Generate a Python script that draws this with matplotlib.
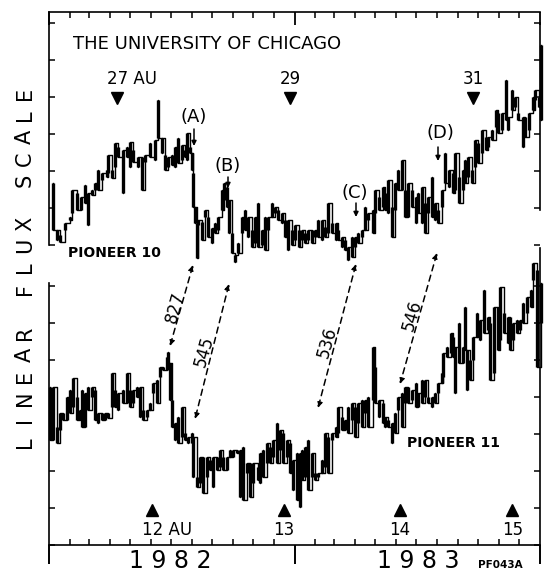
import numpy as np
import matplotlib
matplotlib.use("Agg")
import matplotlib.pyplot as plt
import matplotlib.dates as mdates

# days since 1982-01-01, flux in arbitrary linear units (high / low of each reading)
p10_day = [6, 12, 16, 24, 31, 34, 42, 48, 54, 58, 64, 68, 73, 79, 86, 88, 94, 98, 103, 110,
           116, 121, 125, 132, 138, 143, 150, 158, 162, 168, 173, 177, 183, 187, 192, 198, 202, 205, 210, 213,
           214, 217, 220, 222, 228, 232, 237, 243, 247, 251, 257, 260, 265, 268, 272, 277, 281, 287, 292, 296,
           302, 307, 311, 317, 321, 326, 332, 336, 341, 347, 351, 356, 362, 366, 371, 376, 381, 385, 391, 396,
           400, 406, 411, 415, 421, 426, 430, 436, 440, 445, 451, 455, 460, 466, 470, 475, 481, 485, 490, 496,
           500, 504, 510, 515, 519, 525, 530, 534, 540, 545, 549, 555, 559, 564, 570, 574, 579, 585, 589, 594,
           600, 604, 609, 615, 619, 623, 629, 634, 638, 644, 649, 653, 659, 664, 668, 674, 679, 683, 689, 693,
           698, 704, 708, 713, 719, 723, 728, 731]
p10_hi = [62, 15, 10, 22, 28, 55, 52, 48, 60, 52, 55, 62, 75, 72, 75, 90, 75, 102, 98, 95,
          98, 103, 95, 88, 88, 90, 102, 105, 145, 107, 90, 88, 90, 98, 107, 100, 95, 112, 98, 92,
          72, 38, 22, 25, 23, 35, 28, 17, 22, 28, 55, 62, 58, 45, 12, -10, 2, 28, 35, 28,
          15, 28, 42, 15, 28, 28, 42, 38, 35, 32, 25, 25, 15, 20, 15, 15, 12, 15, 15, 15,
          25, 25, 18, 42, 22, 22, 15, 8, 5, -2, 8, 8, 12, 15, 38, 32, 35, 55, 48, 58,
          52, 65, 38, 62, 75, 85, 55, 62, 55, 48, 52, 58, 42, 48, 68, 42, 35, 55, 92, 75,
          72, 92, 68, 75, 85, 88, 75, 105, 102, 115, 108, 108, 115, 135, 132, 132, 165, 128, 155, 148,
          132, 128, 128, 132, 148, 155, 148, 200]
p10_lo = [15, 5, 3, 15, 25, 32, 35, 35, 42, 20, 50, 55, 55, 65, 68, 72, 67, 78, 88, 52,
          88, 78, 83, 78, 55, 83, 88, 85, 107, 92, 75, 78, 80, 78, 82, 85, 88, 85, 92, 75,
          38, 22, -13, 20, 5, 28, 8, 2, 12, 15, 35, 45, 38, 12, -8, -17, -8, 12, 15, 8,
          -2, 2, -2, 0, -5, 15, 28, 32, 25, 22, 8, -5, 0, 5, -2, 5, 2, 5, 2, 8,
          8, 5, 8, 12, 12, 5, 5, -2, -5, -15, -12, -2, 2, 8, 15, 25, 12, 32, 35, 38,
          35, 32, 8, 35, 55, 55, 28, 28, 38, 22, 32, 22, 12, 32, 28, 25, 22, 38, 62, 58,
          52, 55, 42, 55, 62, 68, 62, 78, 82, 92, 95, 98, 105, 118, 112, 115, 125, 115, 135, 138,
          125, 98, 108, 115, 135, 145, 138, 125]

p11_day = [1, 6, 12, 16, 21, 27, 31, 36, 42, 46, 49, 54, 58, 64, 68, 73, 79, 83, 88, 94,
           98, 103, 110, 116, 121, 125, 131, 135, 140, 146, 150, 155, 161, 165, 170, 176, 177, 180, 183, 187,
           192, 198, 202, 207, 213, 214, 220, 225, 229, 235, 240, 244, 250, 254, 259, 265, 269, 274, 280, 284,
           289, 295, 299, 304, 310, 314, 318, 324, 329, 333, 339, 344, 348, 354, 359, 363, 369, 373, 376, 381,
           385, 391, 396, 400, 406, 411, 415, 421, 426, 430, 436, 440, 445, 451, 455, 460, 466, 470, 475, 481,
           485, 490, 496, 500, 504, 510, 515, 519, 525, 530, 534, 540, 545, 549, 555, 559, 564, 570, 574, 579,
           585, 586, 592, 597, 600, 604, 609, 615, 619, 622, 626, 631, 637, 641, 646, 652, 656, 661, 667, 671,
           676, 682, 686, 690, 696, 701, 705, 711, 716, 720, 726, 731]
p11_hi = [158, 158, 118, 132, 132, 148, 155, 167, 148, 135, 155, 152, 158, 158, 155, 132, 132, 132, 132, 172,
          155, 152, 155, 172, 155, 155, 158, 158, 135, 135, 142, 162, 165, 178, 178, 188, 193, 182, 145, 122,
          128, 138, 112, 108, 112, 108, 68, 88, 88, 88, 85, 88, 88, 95, 88, 88, 95, 95, 95, 95,
          98, 82, 82, 82, 78, 92, 95, 102, 98, 105, 122, 115, 112, 105, 102, 85, 92, 92, 95, 98,
          105, 92, 72, 72, 85, 112, 108, 112, 118, 138, 128, 125, 138, 142, 138, 142, 145, 145, 148, 198,
          178, 145, 142, 128, 125, 122, 132, 148, 152, 158, 158, 155, 162, 152, 165, 165, 148, 148, 152, 162,
          172, 192, 198, 212, 208, 198, 222, 198, 238, 195, 185, 208, 232, 225, 255, 228, 222, 238, 238, 258,
          232, 228, 228, 222, 225, 225, 242, 248, 255, 282, 275, 262]
p11_lo = [105, 105, 102, 115, 125, 125, 132, 138, 125, 125, 118, 118, 135, 148, 125, 122, 125, 125, 127, 138,
          138, 135, 142, 142, 138, 142, 148, 128, 125, 128, 135, 152, 142, 168, 175, 175, 182, 145, 118, 105,
          102, 108, 105, 102, 102, 68, 58, 62, 52, 68, 75, 58, 75, 78, 75, 75, 88, 88, 92, 48,
          45, 72, 48, 62, 65, 62, 68, 82, 82, 88, 82, 95, 82, 88, 72, 55, 45, 38, 65, 68,
          55, 68, 65, 68, 72, 78, 72, 105, 108, 112, 115, 115, 112, 125, 108, 122, 118, 132, 118, 145,
          142, 128, 122, 118, 118, 102, 112, 135, 118, 142, 142, 145, 138, 138, 142, 148, 142, 138, 142, 152,
          162, 168, 188, 192, 188, 152, 182, 182, 195, 155, 165, 185, 208, 205, 212, 215, 165, 172, 195, 205,
          212, 202, 195, 205, 212, 215, 222, 232, 238, 265, 178, 222]

# heliocentric distance markers (days since 1982-01-01)
p10_au_day = [101, 359, 631]
p10_au_lab = ["27 AU", "29", "31"]
p11_au_day = [153, 349, 522, 689]
p11_au_lab = ["12 AU", "13", "14", "15"]

# features and their travel-time delays (days)
event_lab = ["(A)", "(B)", "(C)", "(D)"]
delay_lab = ["827", "545", "536", "546"]

start = np.datetime64("1982-01-01")


def dates(d):
    return start + np.array(d).astype("timedelta64[D]")


def P(px, py):
    # picture pixel -> figure fraction
    return (px / 545, 1 - py / 573)


def trace(ax, day, hi, lo):
    xs, ys = [], []
    for i, (d, h, l) in enumerate(zip(day, hi, lo)):
        a, b = (h, l) if i % 2 == 0 else (l, h)
        xs += [d, d]
        ys += [a, b]
    ax.plot(dates(xs), ys, drawstyle="steps-post", color="k", lw=1.0, clip_on=False)
    ax.vlines(dates(day), lo, hi, color="k", lw=2.4, clip_on=False)


fig = plt.figure(figsize=(5.45, 5.73), dpi=100)
ax1 = fig.add_axes([49 / 545, 1 - 245 / 573, 491 / 545, 233 / 573])
ax2 = fig.add_axes([49 / 545, 1 - 545 / 573, 491 / 545, 297 / 573])

for ax in (ax1, ax2):
    ax.set_xlim(np.datetime64("1982-01-01"), np.datetime64("1984-01-01"))
    ax.xaxis.set_major_locator(mdates.YearLocator())
    ax.xaxis.set_minor_locator(mdates.MonthLocator())
    ax.xaxis.set_major_formatter(plt.NullFormatter())
    ax.tick_params(labelleft=False, labelbottom=False, labeltop=False, labelright=False)
    ax.tick_params(axis="y", which="both", direction="in", left=True, right=True, length=4, width=1.1)
    for s in ax.spines.values():
        s.set_linewidth(1.2)
    ax.patch.set_visible(False)

ax1.set_ylim(0, 233)
ax1.set_yticks(np.arange(0, 223, 37))
ax1.spines["bottom"].set_visible(False)
ax1.spines["right"].set_bounds(35, 222)
ax1.xaxis.tick_top()
ax1.tick_params(axis="x", which="minor", direction="in", length=4, width=1.1)
ax1.tick_params(axis="x", which="major", direction="in", length=9, width=1.3)

ax2.set_ylim(0, 297)
ax2.set_yticks(np.arange(0, 260, 37))
ax2.spines["top"].set_visible(False)
ax2.spines["left"].set_bounds(0, 262)
ax2.tick_params(axis="x", which="minor", direction="in", length=4, width=1.1)
ax2.tick_params(axis="x", which="major", direction="out", length=14, width=1.4)

trace(ax1, p10_day, p10_hi, p10_lo)
trace(ax2, p11_day, p11_hi, p11_lo)

# distance markers
ax1.plot(dates(p10_au_day), [147] * 3, "kv", ms=9, clip_on=False)
for d, lab in zip(p10_au_day, p10_au_lab):
    ha = "left" if "AU" in lab else "center"
    ax1.annotate(lab, (dates(d), 147), xytext=(-7 if ha == "left" else 0, 7),
                 textcoords="offset points", ha=ha, va="bottom", fontsize=12)
ax2.plot(dates(p11_au_day), [35] * 4, "k^", ms=9, clip_on=False)
for d, lab in zip(p11_au_day, p11_au_lab):
    ha = "left" if "AU" in lab else "center"
    ax2.annotate(lab, (dates(d), 35), xytext=(-7 if ha == "left" else 0, -8),
                 textcoords="offset points", ha=ha, va="top", fontsize=12)

# labelled features in Pioneer 10
ev_text = [(194, 117), (228, 166), (355, 193), (440, 133)]
ev_arrow = [(194, 129, 146), (228, 177, 188), (356, 203, 217), (438, 147, 161)]
for lab, (tx, ty), (axx, y0, y1) in zip(event_lab, ev_text, ev_arrow):
    fig.text(*P(tx, ty), lab, ha="center", va="center", fontsize=13)
    ax1.annotate("", xy=P(axx, y1), xytext=P(axx, y0), xycoords="figure fraction",
                 textcoords="figure fraction", annotation_clip=False,
                 arrowprops=dict(arrowstyle="-|>", color="k", lw=1.1, mutation_scale=7,
                                 shrinkA=0, shrinkB=0))

# dashed delay arrows between the two spacecraft
d_top = [(193, 265), (229, 284), (356, 264), (437, 253)]
d_bot = [(170, 346), (195, 419), (318, 408), (400, 384)]
d_txt = [(175, 307), (204, 351), (327, 342), (412, 315)]
for lab, a, b, t in zip(delay_lab, d_top, d_bot, d_txt):
    ax1.annotate("", xy=P(*b), xytext=P(*a), xycoords="figure fraction",
                 textcoords="figure fraction", annotation_clip=False,
                 arrowprops=dict(arrowstyle="<|-|>", color="k", lw=1.1, ls=(0, (4, 3)),
                                 mutation_scale=8, shrinkA=0, shrinkB=0))
    fig.text(*P(*t), lab, ha="center", va="center", rotation=74, fontsize=12)

fig.text(*P(73, 44), "THE UNIVERSITY OF CHICAGO", ha="left", va="center", fontsize=13)
fig.text(*P(68, 253), "PIONEER 10", ha="left", va="center", fontsize=10, weight="bold")
fig.text(*P(407, 443), "PIONEER 11", ha="left", va="center", fontsize=10, weight="bold")

# spaced-out vertical axis title, one letter at a time
ylab = "LINEAR FLUX SCALE"
py = 442
for ch in ylab:
    if ch != " ":
        fig.text(*P(25, py), ch, ha="center", va="center", rotation=90, fontsize=15)
    py -= 21.8

fig.text(*P(170, 561), "1 9 8 2", ha="center", va="center", fontsize=17)
fig.text(*P(418, 561), "1 9 8 3", ha="center", va="center", fontsize=17)
fig.text(*P(478, 565), "PF043A", ha="left", va="center", fontsize=7.5, weight="bold")

fig.savefig("out.png", dpi=100)
